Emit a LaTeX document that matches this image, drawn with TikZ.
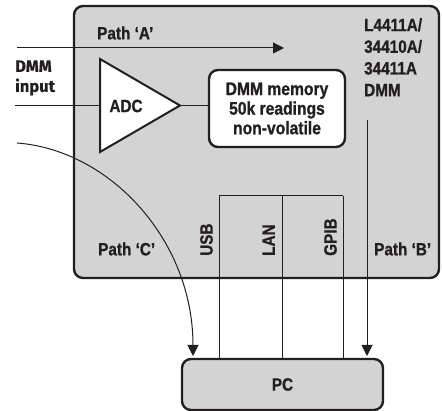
\documentclass[tikz,border=0pt]{standalone}
\usepackage{fontspec}
\setmainfont{Liberation Sans}[FakeStretch=0.86, BoldFeatures={FakeBold=0.9}]
\newfontfamily\inputfont{Fira Sans}[BoldFeatures={FakeBold=0.6}]
\usetikzlibrary{arrows.meta}
\definecolor{panel}{RGB}{211,211,212}
\definecolor{ink}{RGB}{35,31,32}
\begin{document}
\begin{tikzpicture}[x=1pt,y=-1pt,
  lbl/.style={font=\fontsize{17.8}{21.7}\selectfont\bfseries, text=ink, inner sep=0pt},
  inlbl/.style={font=\inputfont\fontsize{16.5}{20}\selectfont\bfseries, text=ink, inner sep=0pt},
  thinline/.style={draw=ink, line width=1pt},
  arr/.style={thinline, -{Triangle[length=11pt,width=11pt]}},
  boxstyle/.style={draw=ink, line width=2.4pt, rounded corners=9pt, inner sep=0pt}
]
\useasboundingbox (0,0) rectangle (442,411);
% main DMM panel
\node[boxstyle, fill=panel, minimum width=365pt, minimum height=272pt] (dmm) at (256.5,142) {};
% labels inside panel
\node[lbl, anchor=west] (pa) at (97,33) {Path ‘A’};
\node[lbl, anchor=west] (pc-lbl) at (98,249) {Path ‘C’};
\node[lbl, anchor=west] (pb-lbl) at (374,249) {Path ‘B’};
\node[lbl, anchor=north west, align=left] (model) at (364,18) {L4411A/\\34410A/\\34411A\\DMM};
\node[inlbl, anchor=west, align=left] (inp) at (15,78) {DMM\\input};
% PC
\node[boxstyle, fill=panel, minimum width=201pt, minimum height=51pt, font=\fontsize{17.8}{20}\selectfont\bfseries, text=ink] (pc) at (282.5,384.5) {PC};
% path A
\coordinate (aS) at (17,48);
\coordinate (aE) at (284,48);
\draw[arr] (aS) -- (aE);
% ADC
\coordinate (t1) at (100,59);
\coordinate (tA) at (180,105.5);
\coordinate (t2) at (100,152);
\coordinate (adcIn) at (100,105.5);
\coordinate (inS) at (15,105.5);
\draw[thinline] (inS) -- (adcIn);
\draw[draw=ink, line width=2pt, fill=white, line join=miter] (t1) -- (tA) -- (t2) -- cycle;
\node[lbl] (adc) at (126,106) {ADC};
% memory
\node[boxstyle, fill=white, minimum width=136pt, minimum height=77pt, align=center, font=\fontsize{18.2}{19.6}\selectfont\bfseries, text=ink] (mem) at (277,108.5) {DMM memory\\50k readings\\non-volatile};
\draw[thinline] (tA) -- (tA -| mem.west);
% interfaces
\coordinate (i1) at (219,196);
\coordinate (i2) at (282,196);
\coordinate (i3) at (343,196);
\draw[thinline] (i1) -- (i3);
\draw[thinline] (i1) -- (i1 |- pc.north);
\draw[thinline] (i2) -- (i2 |- pc.north);
\draw[thinline] (i3) -- (i3 |- pc.north);
\node[lbl, rotate=90, anchor=south west] (usb) at (213,256) {USB};
\node[lbl, rotate=90, anchor=south west] (lan) at (275,256) {LAN};
\node[lbl, rotate=90, anchor=south west] (gpib) at (337,256) {GPIB};
% path B
\coordinate (bS) at (367,120);
\coordinate (bE) at (367,356);
\draw[arr] (bS) -- (bE);
% path C
\coordinate (cS) at (17,143);
\coordinate (cE) at (193,356);
\draw[arr] (cS) .. controls (110,150) and (193,240) .. (cE);
\end{tikzpicture}
\end{document}
